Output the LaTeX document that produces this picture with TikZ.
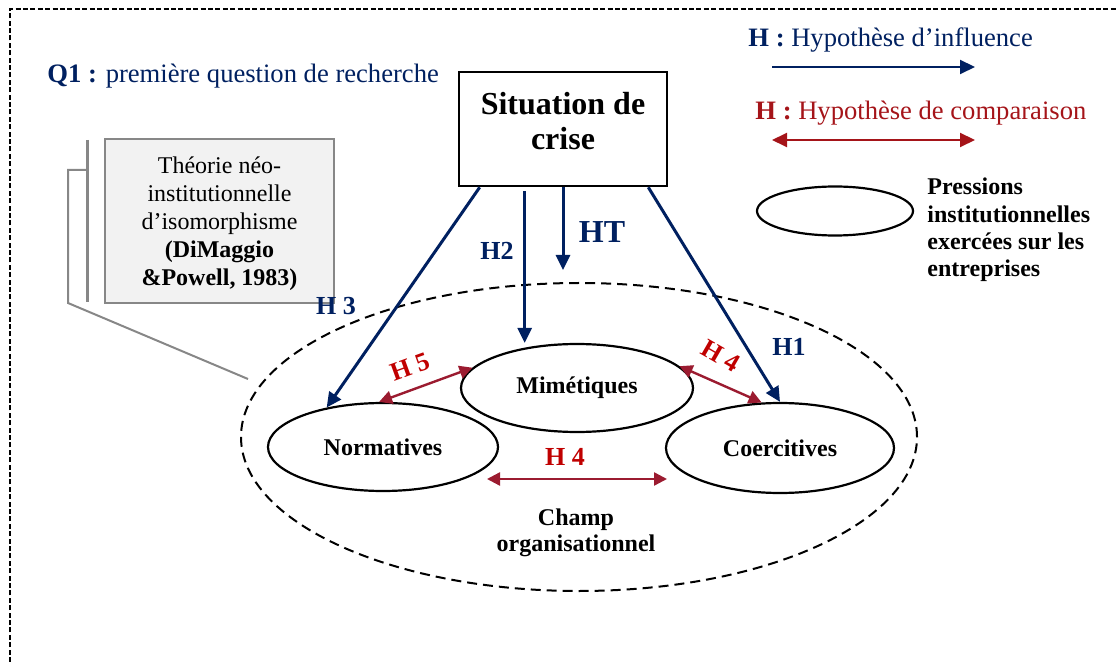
\documentclass[tikz,border=0pt]{standalone}
\usepackage{fontspec}
\setmainfont{Liberation Serif}
\usetikzlibrary{shapes.geometric,arrows.meta,positioning}
\definecolor{navyblue}{RGB}{0,32,96}
\definecolor{darkred}{RGB}{192,0,0}
\definecolor{legred}{RGB}{165,20,25}
\definecolor{wine}{RGB}{155,27,48}
\definecolor{boxgray}{RGB}{242,242,242}
\definecolor{linegray}{RGB}{135,135,135}

\begin{document}
\begin{tikzpicture}[x=0.5pt, y=-0.5pt, every node/.style={inner sep=0pt},
    pressure/.style={ellipse, draw, line width=1.1pt, minimum width=115pt, minimum height=44pt, font=\bfseries\fontsize{12}{14}\selectfont},
    influence/.style={navyblue, line width=1.5pt, -{Triangle[length=7.5pt,width=7pt]}},
    compare/.style={wine, line width=1.2pt, {Triangle[length=6.5pt,width=6.5pt]}-{Triangle[length=6.5pt,width=6.5pt]}},
    bluelabel/.style={navyblue, font=\bfseries\fontsize{13}{15}\selectfont},
    redlabel/.style={darkred, font=\bfseries\fontsize{13}{15}\selectfont}]
    \useasboundingbox (0,0) rectangle (1118,662);
    \draw[line width=0.65pt, dash pattern=on 2.5pt off 1.2pt] (10,662) -- (10,9) -- (1118,9);

    \node[anchor=base west, navyblue, font=\fontsize{13.3}{15}\selectfont] (q1) at (47,83) {\textbf{Q1 :} première question de recherche};
    \node[draw, line width=1.3pt, minimum width=104pt, minimum height=57pt] (crise) at (563,129) {};
    \node[align=center, font=\bfseries\fontsize{16}{17.5}\selectfont] (crisetxt) at (563,121) {Situation de\\crise};

    % theorie + renvoi
    \node[draw=linegray, fill=boxgray, line width=1pt, minimum width=114.5pt, minimum height=82pt] (theorie) at (219.5,221) {};
    \node[align=center, font=\fontsize{12}{14}\selectfont] (theotxt) at (219.5,223.5) {Théorie néo-\\institutionnelle\\d’isomorphisme\\\textbf{(DiMaggio}\\\textbf{\&Powell, 1983)}};
    \draw[linegray, line width=1.5pt] (87,140) -- (87,302);
    \draw[linegray, line width=1pt] (86,170) -- (68,170) -- (68,303) -- (248,379);

    % champ organisationnel
    \node[ellipse, draw, line width=1pt, dash pattern=on 5pt off 3pt, minimum width=338pt, minimum height=154pt] (champ) at (579,437) {};
    \node[align=center, font=\bfseries\fontsize{12}{13}\selectfont] (champtxt) at (576,533) {Champ\\organisationnel};

    \node[pressure, minimum width=116pt] (mim) at (577,388) {Mimétiques};
    \node[pressure] (norm) at (383,447) {Normatives};
    \node[pressure, minimum width=114pt, minimum height=45pt] (coer) at (780,448) {Coercitives};

    % influences
    \coordinate (h2) at ([xshift=33.5pt,yshift=-2pt]crise.south west);
    \coordinate (ht) at (563,270);
    \draw[influence] ([xshift=11pt]crise.south west) -- (norm.145);
    \draw[influence] (h2) -- (h2 |- mim.north);
    \draw[influence] (crise.south) -- (ht);
    \draw[influence] ([xshift=-10pt]crise.south east) -- (coer.north);
    \node[bluelabel] (lh3) at (336,306) {H 3};
    \node[bluelabel] (lh2) at (497,251) {H2};
    \node[bluelabel, font=\bfseries\fontsize{16}{18}\selectfont] (lht) at (602,232) {HT};
    \node[bluelabel] (lh1) at (789,347) {H1};

    % comparaisons
    \coordinate (h4l) at (487,479);
    \coordinate (h4r) at (667,479);
    \draw[compare] (norm.95) -- (mim.169);
    \draw[compare] (mim.12) -- (coer.112);
    \draw[compare] (h4l) -- (h4r);
    \node[redlabel, rotate=20] (lh5) at (410,367) {H 5};
    \node[redlabel, rotate=-30] (lh4a) at (721,356) {H 4};
    \node[redlabel] (lh4b) at (565,457) {H 4};

    % legende
    \node[anchor=base west, navyblue, font=\fontsize{13.3}{15}\selectfont] (leginf) at (748,47) {\textbf{H :} Hypothèse d’influence};
    \coordinate (inf1) at (772,67);
    \coordinate (inf2) at (975,67);
    \draw[navyblue, line width=1pt, -{Triangle[length=7.5pt,width=7pt]}] (inf1) -- (inf2);
    \node[anchor=base west, legred, font=\fontsize{13.3}{15}\selectfont] (legcmp) at (755,120) {\textbf{H :} Hypothèse de comparaison};
    \coordinate (cmp1) at (772,140);
    \coordinate (cmp2) at (975,140);
    \draw[legred, line width=1pt, {Triangle[length=7.5pt,width=7pt]}-{Triangle[length=7.5pt,width=7pt]}] (cmp1) -- (cmp2);
    \node[ellipse, draw, line width=1.1pt, minimum width=78pt, minimum height=24.5pt] (legell) at (835,211) {};
    \node[anchor=west, align=left, font=\bfseries\fontsize{12}{13.6}\selectfont] (legtxt) at (927,230) {Pressions\\institutionnelles\\exercées sur les\\entreprises};
\end{tikzpicture}
\end{document}
